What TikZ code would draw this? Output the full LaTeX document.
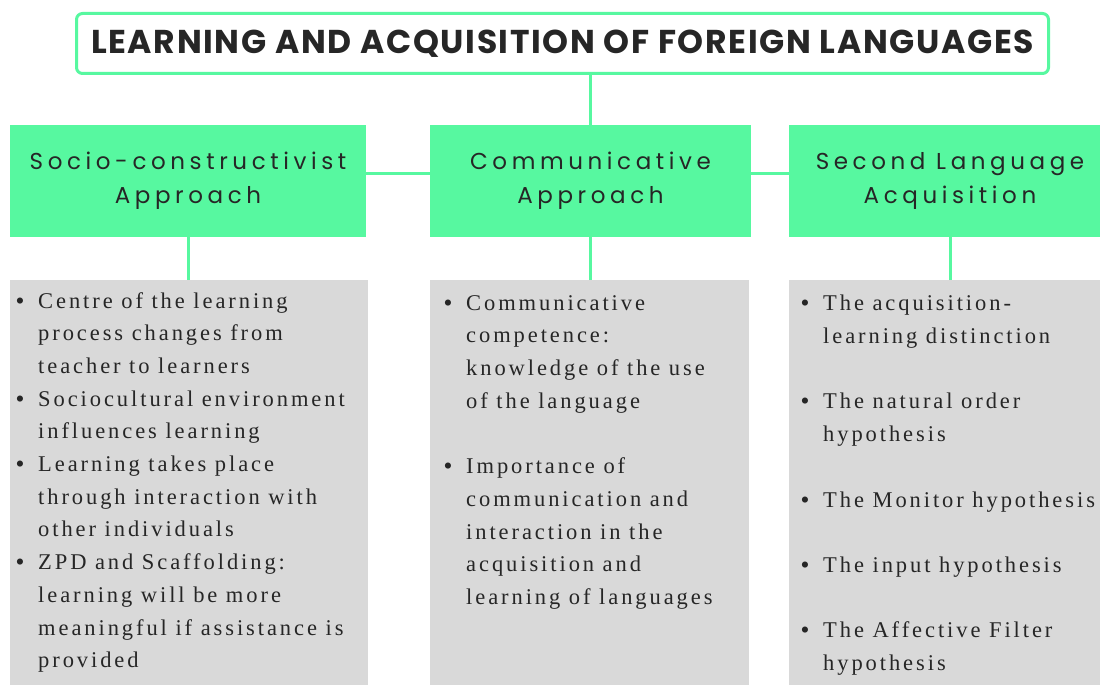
\documentclass[tikz,border=0pt]{standalone}
\usepackage{fontspec}
\setmainfont{Liberation Serif}[LetterSpace=13]
\newfontfamily\headfont{Poppins}[LetterSpace=20]
\newfontfamily\titlefont{Poppins}[LetterSpace=5]
\usetikzlibrary{positioning}
\definecolor{mint}{HTML}{57F8A0}
\definecolor{boxgray}{HTML}{D9D9D9}
\definecolor{ink}{HTML}{262626}
\tikzstyle{link} = [line width=3pt, mint]
\newcommand{\bul}[1]{\makebox[22pt][l]{\bfseries\textbullet}#1}
\newcommand{\cnt}[1]{\hspace*{22pt}#1}

\begin{document}
\begin{tikzpicture}[
    x=1pt, y=-1pt,
    titlebox/.style={draw=mint, line width=3pt, fill=white, rounded corners=6pt,
        minimum width=972pt, minimum height=60pt, inner sep=0pt},
    head/.style={fill=mint, inner sep=0pt, minimum height=112pt, align=center,
        text=ink, font=\headfont\fontsize{23}{34}\selectfont},
    list/.style={fill=boxgray, inner sep=0pt, minimum height=405pt},
    items/.style={anchor=north west, inner sep=0pt, align=left, text=ink,
        font=\fontsize{22.5}{32.7}\selectfont}
]
    \useasboundingbox (0,0) rectangle (1100,685);

    % Title
    \node[titlebox] (title) at (562.5,43.5)
        {\titlefont\bfseries\fontsize{33}{38}\selectfont\color{ink}LEARNING AND ACQUISITION OF FOREIGN LANGUAGES};

    % Approach headers
    \node[head, minimum width=356pt] (socio) at (188,181) {Socio-constructivist\\Approach};
    \node[head, minimum width=321pt] (comm) at (590.5,181) {Communicative\\Approach};
    \node[head, minimum width=322pt] (sla) at (950,181) {Second Language\\Acquisition};

    % Content boxes
    \node[list, minimum width=358pt] (sociolist) at (189,482.5) {};
    \node[list, minimum width=319pt] (commlist) at (589.5,482.5) {};
    \node[list, minimum width=322pt] (slalist) at (950,482.5) {};

    % Connectors
    \draw[link] (comm.north) -- (comm.north |- title.south);
    \draw[link] ([yshift=8pt]socio.east) -- ([yshift=8pt]comm.west);
    \draw[link] ([yshift=8pt]comm.east) -- ([yshift=8pt]sla.west);
    \foreach \h in {socio, comm, sla} {
        \draw[link] (\h.south) -- (\h.south |- \h list.north);
    }

    % Items
    \node[items] (socioitems) at (16,292) {%
        \bul{Centre of the learning}\\
        \cnt{process changes from}\\
        \cnt{teacher to learners}\\
        \bul{Sociocultural environment}\\
        \cnt{influences learning}\\
        \bul{Learning takes place}\\
        \cnt{through interaction with}\\
        \cnt{other individuals}\\
        \bul{ZPD and Scaffolding:}\\
        \cnt{learning will be more}\\
        \cnt{meaningful if assistance is}\\
        \cnt{provided}};
    \node[items] (commitems) at (444,295) {%
        \bul{Communicative}\\
        \cnt{competence:}\\
        \cnt{knowledge of the use}\\
        \cnt{of the language}\\[32.7pt]
        \bul{Importance of}\\
        \cnt{communication and}\\
        \cnt{interaction in the}\\
        \cnt{acquisition and}\\
        \cnt{learning of languages}};
    \node[items] (slaitems) at (801,295) {%
        \bul{The acquisition-}\\
        \cnt{learning distinction}\\[32.7pt]
        \bul{The natural order}\\
        \cnt{hypothesis}\\[32.7pt]
        \bul{The Monitor hypothesis}\\[32.7pt]
        \bul{The input hypothesis}\\[32.7pt]
        \bul{The Affective Filter}\\
        \cnt{hypothesis}};

\end{tikzpicture}
\end{document}
